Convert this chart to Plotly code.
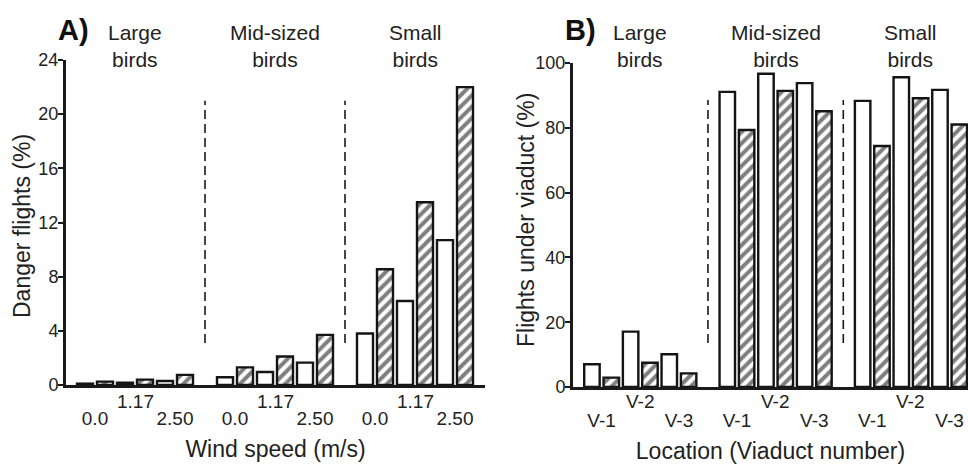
import plotly.graph_objects as go

# ---------------- data ----------------
groups = ["Large<br>birds", "Mid-sized<br>birds", "Small<br>birds"]
wind_labels = ["0.0", "1.17", "2.50"]
viaduct_labels = ["V-1", "V-2", "V-3"]

# Panel A: Danger flights (%) - open and hatched bars, per group x wind speed
danger_open = [0.1, 0.17, 0.3, 0.57, 0.96, 1.65, 3.8, 6.2, 10.7]
danger_hatched = [0.25, 0.4, 0.75, 1.3, 2.1, 3.7, 8.55, 13.5, 22.0]

# Panel B: Flights under viaduct (%) - open and hatched bars, per group x viaduct
under_open = [7.0, 17.1, 10.1, 91.1, 96.7, 93.8, 88.3, 95.6, 91.7]
under_hatched = [2.9, 7.5, 4.2, 79.3, 91.4, 85.1, 74.4, 89.1, 81.0]

yticks_a = [0, 4, 8, 12, 16, 20, 24]
yticks_b = [0, 20, 40, 60, 80, 100]

ytitle_a = "Danger flights (%)"
ytitle_b = "Flights under viaduct (%)"

# ---------------- layout helpers ----------------
FONT = "Liberation Sans, Arial, sans-serif"
TXT = "#222222"
W, H = 968, 468

def slots(series):
    return [7 * g + 2 * k + series for g in range(3) for k in range(3)]

open_x = slots(0)
hatched_x = slots(1)
outer_tickvals = [7 * g + 2 * k + 0.5 for g in range(3) for k in (0, 2)]
mid_tickvals = [7 * g + 2.5 for g in range(3)]
group_centers = [7 * g + 2.5 for g in range(3)]
dividers = [6, 13]

fig = go.Figure()

def add_bars(xaxis, yaxis, open_vals, hatched_vals):
    fig.add_trace(go.Bar(
        x=open_x, y=open_vals, width=0.8, xaxis=xaxis, yaxis=yaxis,
        marker=dict(color="white", line=dict(color="#141414", width=2.4)),
        showlegend=False, hoverinfo="y", cliponaxis=False))
    fig.add_trace(go.Bar(
        x=hatched_x, y=hatched_vals, width=0.8, xaxis=xaxis, yaxis=yaxis,
        marker=dict(color="white",
                    pattern=dict(shape="/", fgcolor="#000000", bgcolor="white",
                                 size=8, solidity=0.5, fillmode="overlay"),
                    line=dict(color="#141414", width=2.4)),
        showlegend=False, hoverinfo="y", cliponaxis=False))

add_bars("x", "y", danger_open, danger_hatched)
add_bars("x2", "y2", under_open, under_hatched)

def xpx(p):
    return p / W

def ypx(p):
    return 1 - p / H

axis_common = dict(showline=True, linewidth=3, linecolor="#1a1a1a",
                   showgrid=False, zeroline=False, mirror=False, automargin=False,
                   tickfont=dict(family=FONT, size=19, color=TXT),
                   title_font=dict(family=FONT, size=23, color=TXT))

fig.update_layout(
    width=W, height=H,
    margin=dict(l=0, r=0, t=0, b=0),
    paper_bgcolor="white", plot_bgcolor="white",
    barmode="overlay", showlegend=False,
    font=dict(family=FONT, color=TXT),
    xaxis=dict(axis_common, domain=[xpx(66), xpx(485)], range=[-0.95, 20],
               anchor="y", tickmode="array", tickvals=outer_tickvals,
               ticktext=[wind_labels[k] for g in range(3) for k in (0, 2)],
               ticks="", ticklabelstandoff=14,
               title=dict(text="Wind speed (m/s)", standoff=14)),
    yaxis=dict(axis_common, domain=[ypx(385), ypx(60)], range=[0, 24],
               anchor="x", tickmode="array", tickvals=yticks_a,
               ticks="outside", ticklen=5, tickwidth=2, tickcolor="#1a1a1a",
               ticklabelstandoff=-4,
               tickfont=dict(family=FONT, size=18, color=TXT)),
    xaxis2=dict(axis_common, domain=[xpx(573), 1.0], range=[-0.98, 19.45],
                anchor="y2", tickmode="array", tickvals=outer_tickvals,
                ticktext=[viaduct_labels[k] for g in range(3) for k in (0, 2)],
                ticks="", ticklabelstandoff=14,
                title=dict(text="Location (Viaduct number)", standoff=14)),
    yaxis2=dict(axis_common, domain=[ypx(387), ypx(63)], range=[0, 100],
                anchor="x2", tickmode="array", tickvals=yticks_b,
                ticks="outside", ticklen=5, tickwidth=2, tickcolor="#1a1a1a",
                ticklabelstandoff=-4,
                tickfont=dict(family=FONT, size=18, color=TXT)),
)

annotations = []
# y-axis titles
annotations.append(dict(x=xpx(22), y=ypx(226), xref="paper", yref="paper",
                        text=ytitle_a, textangle=-90, showarrow=False,
                        font=dict(family=FONT, size=23, color=TXT),
                        xanchor="center", yanchor="middle"))
annotations.append(dict(x=xpx(526), y=ypx(220), xref="paper", yref="paper",
                        text=ytitle_b, textangle=-90, showarrow=False,
                        font=dict(family=FONT, size=23, color=TXT),
                        xanchor="center", yanchor="middle"))
# raised middle tick labels
for xa, labels in (("x", wind_labels), ("x2", viaduct_labels)):
    for v in mid_tickvals:
        annotations.append(dict(x=v, xref=xa, y=ypx(401.5), yref="paper",
                                text=labels[1], showarrow=False,
                                font=dict(family=FONT, size=19, color=TXT),
                                xanchor="center", yanchor="middle"))
# group labels
for xa in ("x", "x2"):
    for v, g in zip(group_centers, groups):
        annotations.append(dict(x=v, xref=xa, y=ypx(19), yref="paper",
                                text=g, showarrow=False,
                                font=dict(family=FONT, size=21, color=TXT),
                                xanchor="center", yanchor="top", align="center"))
# panel letters
annotations.append(dict(x=xpx(73), y=ypx(30), xref="paper", yref="paper",
                        text="<b>A)</b>", showarrow=False,
                        font=dict(family=FONT, size=29, color="#111111"),
                        xanchor="center", yanchor="middle"))
annotations.append(dict(x=xpx(580), y=ypx(30), xref="paper", yref="paper",
                        text="<b>B)</b>", showarrow=False,
                        font=dict(family=FONT, size=29, color="#111111"),
                        xanchor="center", yanchor="middle"))
fig.update_layout(annotations=annotations)

# dashed group dividers
shapes = []
for d in dividers:
    shapes.append(dict(type="line", xref="x", yref="y", x0=d, x1=d, y0=3.1, y1=21,
                       line=dict(color="#1a1a1a", width=1.6, dash="9px,5px")))
    shapes.append(dict(type="line", xref="x2", yref="y2", x0=d, x1=d, y0=13.6, y1=88.6,
                       line=dict(color="#1a1a1a", width=1.6, dash="9px,5px")))
fig.update_layout(shapes=shapes)

fig.write_html("out.html",
               config={"displayModeBar": False},
               post_script="document.body.style.margin='0';"
                           "document.body.style.padding='0';"
                           "document.body.style.overflow='hidden';")
